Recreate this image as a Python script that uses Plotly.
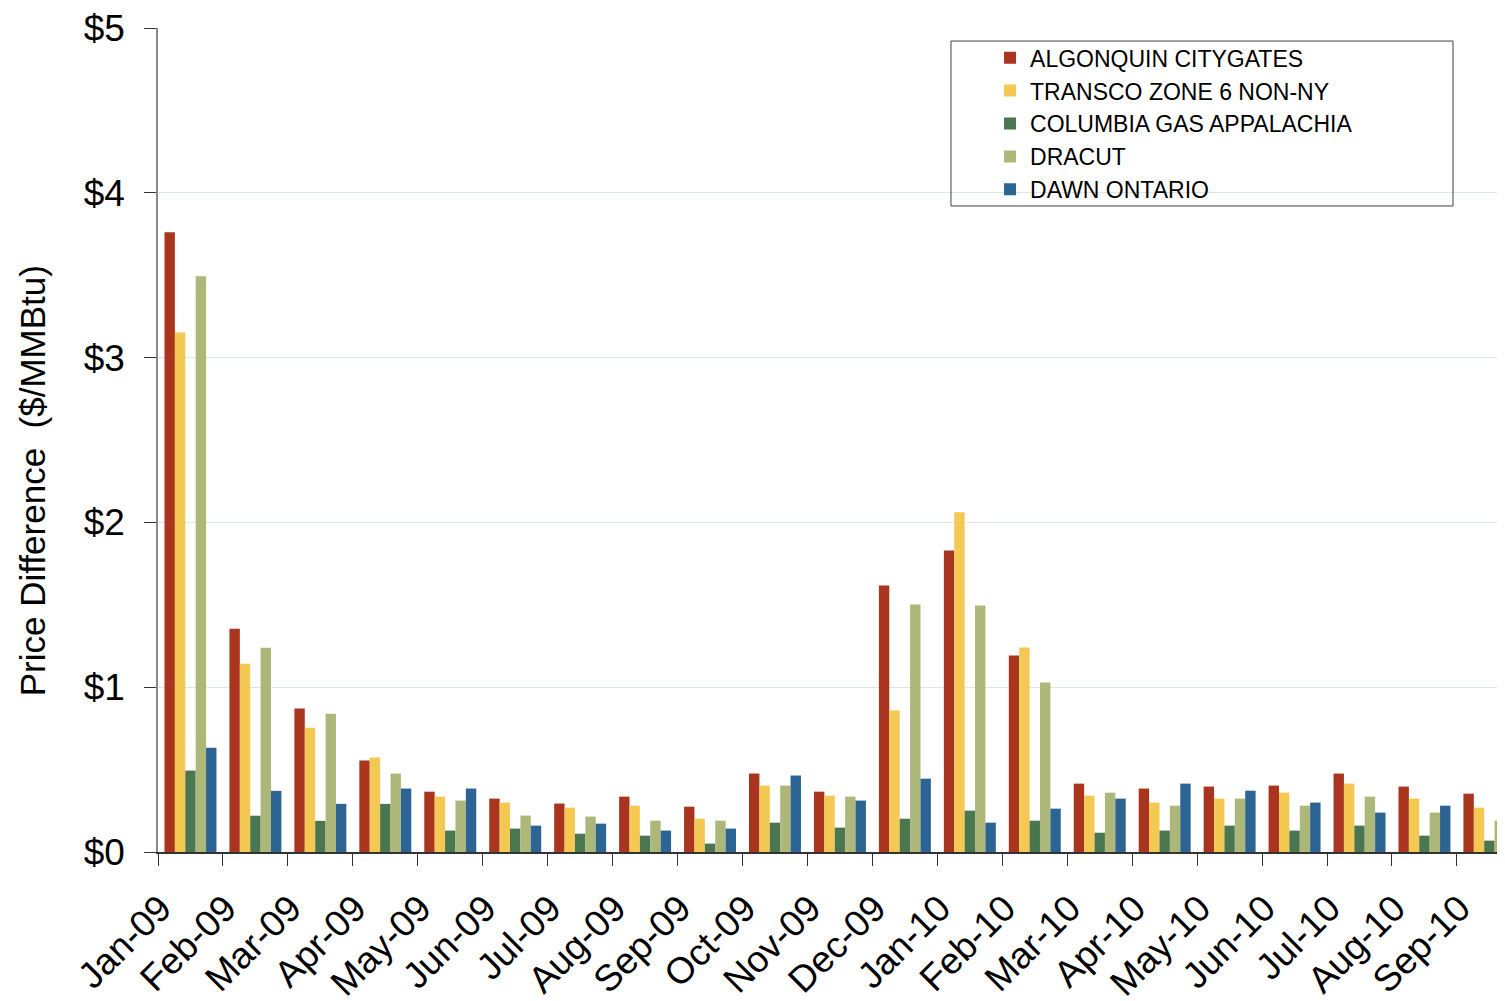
import plotly.graph_objects as go

months = ['Jan-09', 'Feb-09', 'Mar-09', 'Apr-09', 'May-09', 'Jun-09', 'Jul-09',
          'Aug-09', 'Sep-09', 'Oct-09', 'Nov-09', 'Dec-09', 'Jan-10', 'Feb-10',
          'Mar-10', 'Apr-10', 'May-10', 'Jun-10', 'Jul-10', 'Aug-10', 'Sep-10']

algonquin = [3.76, 1.355, 0.87, 0.555, 0.366, 0.324, 0.294, 0.336, 0.275, 0.476,
             0.366, 1.617, 1.83, 1.192, 0.415, 0.385, 0.397, 0.403, 0.476, 0.397, 0.354]
transco = [3.153, 1.143, 0.754, 0.573, 0.336, 0.30, 0.269, 0.281, 0.202, 0.403,
           0.342, 0.858, 2.061, 1.241, 0.342, 0.30, 0.324, 0.36, 0.415, 0.324, 0.269]
columbia = [0.494, 0.22, 0.189, 0.292, 0.13, 0.142, 0.111, 0.099, 0.051, 0.178,
            0.148, 0.202, 0.251, 0.19, 0.117, 0.13, 0.16, 0.13, 0.16, 0.099, 0.069]
dracut = [3.494, 1.24, 0.839, 0.476, 0.312, 0.221, 0.215, 0.19, 0.19, 0.403,
          0.336, 1.502, 1.496, 1.028, 0.36, 0.281, 0.324, 0.281, 0.336, 0.239, 0.19]
dawn = [0.632, 0.371, 0.292, 0.385, 0.385, 0.16, 0.172, 0.13, 0.142, 0.464,
        0.312, 0.445, 0.178, 0.263, 0.324, 0.415, 0.372, 0.30, 0.239, 0.281, 0.391]

y_ticks = [0, 1, 2, 3, 4, 5]
y_labels = ['$0', '$1', '$2', '$3', '$4', '$5']

series = [
    ('ALGONQUIN CITYGATES', algonquin, '#A9351F'),
    ('TRANSCO ZONE 6 NON-NY', transco, '#F4C953'),
    ('COLUMBIA GAS APPALACHIA', columbia, '#4A7750'),
    ('DRACUT', dracut, '#ADB77A'),
    ('DAWN ONTARIO', dawn, '#2C6494'),
]

FONT = 'Liberation Sans, Arial, sans-serif'

fig = go.Figure()
for name, vals, color in series:
    fig.add_trace(go.Bar(x=months, y=vals, name=name, marker_color=color,
                         marker_line_width=0))

# legend frame drawn as a shape so the padding matches the original
fig.add_shape(type='rect', xref='paper', yref='paper',
              x0=0.5887, x1=0.9614, y0=0.784, y1=0.9842,
              line={'color': '#404040', 'width': 1}, fillcolor='rgba(0,0,0,0)')

# y title sits below the axis centre in the original, so use an annotation
fig.add_annotation(text='Price Difference  ($/MMBtu)', textangle=-90,
                   xref='paper', yref='paper', x=-0.0935, y=0.45,
                   xanchor='center', yanchor='middle', showarrow=False,
                   font={'size': 35, 'color': 'black'})

fig.update_layout(
    width=1505, height=1001,
    margin={'l': 150, 'r': 8, 't': 20, 'b': 157},
    plot_bgcolor='white', paper_bgcolor='white',
    barmode='group', bargap=0.2, bargroupgap=0,
    font={'family': FONT, 'color': 'black'},
    xaxis={
        'type': 'category',
        'range': [-0.5, 20.24],  # last month is cut at the right edge
        'automargin': False,
        'tickson': 'boundaries',
        'ticks': 'outside', 'ticklen': 12, 'tickcolor': '#333333', 'tickwidth': 1,
        'showline': True, 'linecolor': '#333333', 'linewidth': 1.5,
        'showgrid': False,
        'tickangle': -45,
        'tickfont': {'size': 37},
        'ticklabelstandoff': 18,
        'ticklabelshift': -30,
        'ticklabeloverflow': 'allow',
    },
    yaxis={
        'range': [0, 5],
        'automargin': False,
        'tickvals': y_ticks, 'ticktext': y_labels,
        'ticks': 'outside', 'ticklen': 12, 'tickcolor': '#333333',
        'showline': True, 'linecolor': '#8a8a8a', 'linewidth': 1.5,
        'showgrid': True, 'gridcolor': '#dce6e6', 'gridwidth': 1,
        'zeroline': False,
        'tickfont': {'size': 37},
        'ticklabelstandoff': 12,
        'ticklabeloverflow': 'allow',
    },
    legend={
        'x': 0.6177, 'y': 0.990, 'xanchor': 'left', 'yanchor': 'top',
        'bgcolor': 'rgba(0,0,0,0)', 'borderwidth': 0,
        'font': {'size': 23, 'color': 'black'},
    },
)

fig.write_html('out.html')
